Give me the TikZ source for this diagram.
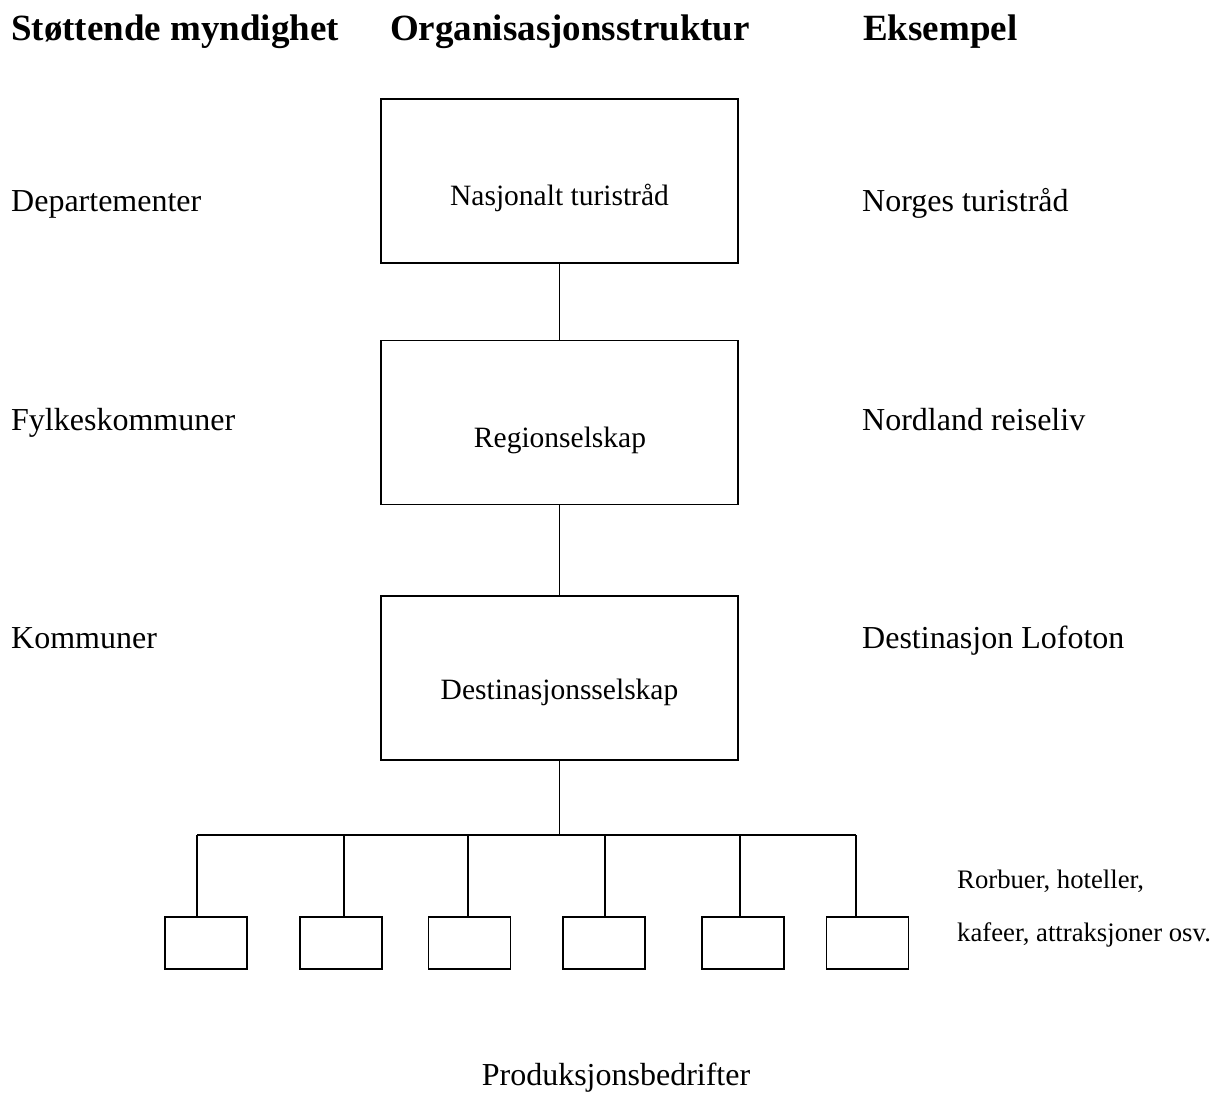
\documentclass[tikz,border=0pt]{standalone}
\usepackage{fontspec}
\setmainfont{Liberation Serif}
\begin{document}
\begin{tikzpicture}[x=1pt,y=-1pt,
  bigbox/.style={draw,line width=1.6pt,minimum width=357pt,minimum height=164pt,inner sep=0pt},
  smallbox/.style={draw,line width=1.6pt,minimum width=82pt,minimum height=52pt,inner sep=0pt},
  head/.style={anchor=base west,inner sep=0pt,font=\fontsize{37}{44}\selectfont\bfseries},
  side/.style={anchor=base west,inner sep=0pt,font=\fontsize{32}{38}\selectfont},
  boxtext/.style={anchor=base,inner sep=0pt,font=\fontsize{29.5}{35}\selectfont},
  note/.style={anchor=base west,inner sep=0pt,font=\fontsize{26.7}{32}\selectfont},
  conn/.style={line width=1.6pt}]
\useasboundingbox (0,0) rectangle (1214,1095);
% headers
\node[head] (h1) at (11,40) {Støttende myndighet};
\node[head] (h2) at (390,40) {Organisasjonsstruktur};
\node[head] (h3) at (863,40) {Eksempel};
% left column
\node[side] (l1) at (11,211) {Departementer};
\node[side] (l2) at (11,430) {Fylkeskommuner};
\node[side] (l3) at (11,648) {Kommuner};
% right column
\node[side] (r1) at (862,211) {Norges turistråd};
\node[side] (r2) at (862,430) {Nordland reiseliv};
\node[side] (r3) at (862,648) {Destinasjon Lofoton};
% main boxes
\node[bigbox] (nat) at (559.5,181) {};
\node[bigbox] (reg) at (559.5,422.5) {};
\node[bigbox] (dest) at (559.5,678) {};
\node[boxtext] (natt) at (559.5,205) {Nasjonalt turistråd};
\node[boxtext] (regt) at (560,447) {Regionselskap};
\node[boxtext] (destt) at (559.5,699) {Destinasjonsselskap};
% connectors
\draw[conn] (nat.south) -- (reg.north);
\draw[conn] (reg.south) -- (dest.north);
\coordinate (hub) at (559.5,835);
\draw[conn] (dest.south) -- (hub);
% small boxes
\node[smallbox] (p1) at (206,943) {};
\node[smallbox] (p2) at (341,943) {};
\node[smallbox] (p3) at (469.5,943) {};
\node[smallbox] (p4) at (604,943) {};
\node[smallbox] (p5) at (743,943) {};
\node[smallbox] (p6) at (867.5,943) {};
\coordinate (t1) at (197,835);
\coordinate (t2) at (344,835);
\coordinate (t3) at (468,835);
\coordinate (t4) at (605,835);
\coordinate (t5) at (740,835);
\coordinate (t6) at (856,835);
\draw[conn] (t1) -- (t6);
\draw[conn] (t1) -- (t1 |- p1.north);
\draw[conn] (t2) -- (t2 |- p2.north);
\draw[conn] (t3) -- (t3 |- p3.north);
\draw[conn] (t4) -- (t4 |- p4.north);
\draw[conn] (t5) -- (t5 |- p5.north);
\draw[conn] (t6) -- (t6 |- p6.north);
% notes
\node[note] (n1) at (957,888) {Rorbuer, hoteller,};
\node[note] (n2) at (957,941) {kafeer, attraksjoner osv.};
\node[side,anchor=base] (prod) at (616,1085) {Produksjonsbedrifter};
\end{tikzpicture}
\end{document}
